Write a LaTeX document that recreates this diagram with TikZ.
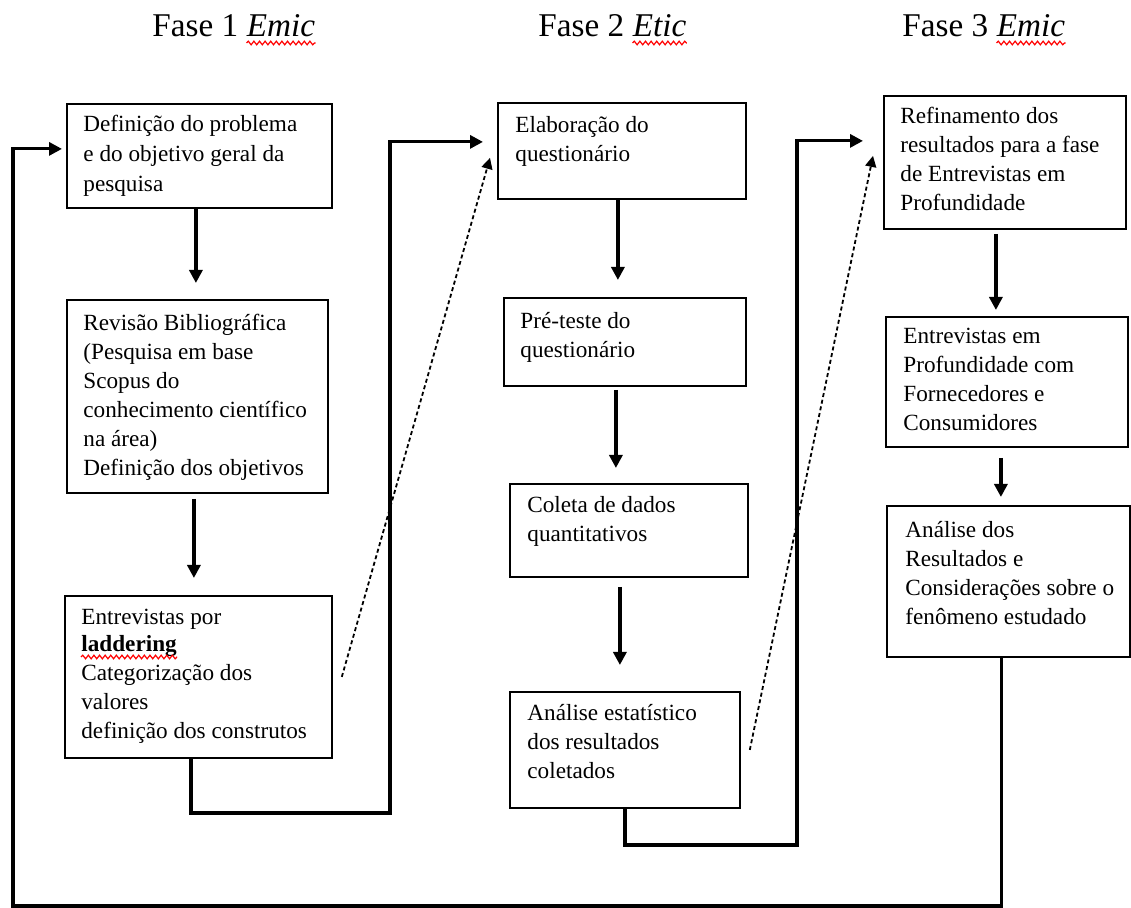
\documentclass[tikz,border=0pt]{standalone}
\usepackage{fontspec}
\setmainfont{Liberation Serif}
\usetikzlibrary{arrows.meta,calc,decorations.pathmorphing}
\newcommand\firststrut{\rule{0pt}{11pt}}
\begin{document}
\begin{tikzpicture}[x=0.5pt,y=-0.5pt,
  box/.style={draw=black,line width=0.9pt,anchor=north west,inner sep=0pt},
  txt/.style={anchor=north west,inner sep=0pt,align=left,
    font=\fontsize{11.6}{14.5}\selectfont},
  line/.style={anchor=base west,inner sep=0pt,
    font=\fontsize{11.6}{14.5}\selectfont},
  head/.style={anchor=base west,inner sep=0pt,
    font=\fontsize{16.6}{20}\selectfont},
  conn/.style={line width=1.6pt,line join=miter,
    -{Triangle[length=6.5pt,width=6.5pt]}},
  dots/.style={line width=0.9pt,dash pattern=on 2pt off 1.4pt,
    -{Triangle[length=5.5pt,width=5.5pt]}},
  wavy/.style={red,line width=0.6pt,
    decorate,decoration={snake,segment length=2.8pt,amplitude=0.9pt}}]
\useasboundingbox (0,0) rectangle (1131,908);

% phase headings
\node[head] (h1) at (152,37) {Fase 1};
\node[head,font=\fontsize{16.6}{20}\selectfont\itshape] (h1e) at ($(h1.base east)+(8,0)$) {Emic};
\node[head] (h2) at (538,37) {Fase 2};
\node[head,font=\fontsize{16.6}{20}\selectfont\itshape] (h2e) at ($(h2.base east)+(8,0)$) {Etic};
\node[head] (h3) at (902,37) {Fase 3};
\node[head,font=\fontsize{16.6}{20}\selectfont\itshape] (h3e) at ($(h3.base east)+(8,0)$) {Emic};
\draw[wavy] ($(h1e.base west)+(0,6)$) -- ($(h1e.base east)+(0,6)$);
\draw[wavy] ($(h2e.base west)+(0,6)$) -- ($(h2e.base east)+(0,6)$);
\draw[wavy] ($(h3e.base west)+(0,6)$) -- ($(h3e.base east)+(0,6)$);

% phase 1 boxes
\node[box,minimum width=132.5pt,minimum height=52pt] (a1) at (66,103) {};
\node[txt,font=\fontsize{11.6}{15}\selectfont] (a1t) at (83,109) {\firststrut Definição do problema\\e do objetivo geral da\\pesquisa};
\node[box,minimum width=130.5pt,minimum height=96.5pt] (a2) at (66,299) {};
\node[txt] (a2t) at (83,308) {\firststrut Revisão Bibliográfica\\(Pesquisa em base\\Scopus do\\conhecimento científico\\na área)\\Definição dos objetivos};
\node[box,minimum width=133.5pt,minimum height=81pt] (a3) at (64,595) {};
\node[line] (a3t1) at (81,625) {Entrevistas por};
\node[line,font=\fontsize{11.6}{14.5}\selectfont\bfseries] (a3t2) at (81,652) {laddering};
\node[txt] (a3t3) at (81,658) {\firststrut Categorização dos\\valores\\definição dos construtos};
\draw[wavy] ($(a3t2.base west)+(0,5)$) -- ($(a3t2.base east)+(0,5)$);

% phase 2 boxes
\node[box,minimum width=124pt,minimum height=48pt] (b1) at (497,102) {};
\node[txt] (b1t) at (515,110) {\firststrut Elaboração do\\questionário};
\node[box,minimum width=121pt,minimum height=44pt] (b2) at (503,297) {};
\node[txt] (b2t) at (520,306) {\firststrut Pré-teste do\\questionário};
\node[box,minimum width=119pt,minimum height=46.5pt] (b3) at (509,483) {};
\node[txt] (b3t) at (527,490) {\firststrut Coleta de dados\\quantitativos};
\node[box,minimum width=115pt,minimum height=58pt] (b4) at (509,691) {};
\node[txt] (b4t) at (527,698) {\firststrut Análise estatístico\\dos resultados\\coletados};

% phase 3 boxes
\node[box,minimum width=121pt,minimum height=66.5pt] (c1) at (883,95) {};
\node[txt] (c1t) at (900,101) {\firststrut Refinamento dos\\resultados para a fase\\de Entrevistas em\\Profundidade};
\node[box,minimum width=121pt,minimum height=65pt] (c2) at (885,316) {};
\node[txt] (c2t) at (903,321) {\firststrut Entrevistas em\\Profundidade com\\Fornecedores e\\Consumidores};
\node[box,minimum width=121.5pt,minimum height=75.5pt] (c3) at (886,505) {};
\node[txt] (c3t) at (905,515) {\firststrut Análise dos\\Resultados e\\Considerações sobre o\\fenômeno estudado};

% arrows inside each phase
\draw[conn,shorten >=8pt] ([xshift=-1.75pt]a1.south) -- ([xshift=-1.75pt]a1.south |- a2.north);
\draw[conn,shorten <=2.5pt,shorten >=8.5pt] ([xshift=-1.75pt]a2.south) -- ([xshift=-1.75pt]a2.south |- a3.north);
\draw[conn,shorten >=8.5pt] ([xshift=-2pt]b1.south) -- ([xshift=-2pt]b1.south |- b2.north);
\draw[conn,shorten <=1.5pt,shorten >=7.5pt] ([xshift=-4.5pt]b2.south) -- ([xshift=-4.5pt]b2.south |- b3.north);
\draw[conn,shorten <=4.5pt,shorten >=13pt] ([xshift=-4.5pt]b3.south) -- ([xshift=-4.5pt]b3.south |- b4.north);
\draw[conn,shorten <=2pt,shorten >=3pt] ([xshift=-4.5pt]c1.south) -- ([xshift=-4.5pt]c1.south |- c2.north);
\draw[conn,shorten <=5pt,shorten >=4pt] ([xshift=-3pt]c2.south) -- ([xshift=-3pt]c2.south |- c3.north);

% links between phases
\coordinate (j1) at (390,813);
\coordinate (j2) at (797,845);
\coordinate (bot) at (13,906);
\draw[conn,shorten >=7pt] ([xshift=-3.75pt]a3.south) |- (j1) |- ([yshift=4.5pt]b1.west);
\draw[conn,shorten >=10pt] (b4.south) |- (j2) |- ([yshift=10.75pt]c1.west);
\draw[conn,shorten >=2pt] ([xshift=-3.5pt]c3.south) |- (bot) |- ([yshift=3.5pt]a1.west);

% dotted feed-forward arrows
\draw[dots] ([xshift=4.5pt]a3.east) -- ([xshift=-3.5pt,yshift=-3.5pt]b1.west);
\draw[dots] ([xshift=4.5pt]b4.east) -- ([xshift=-5pt,yshift=3.25pt]c1.west);
\end{tikzpicture}
\end{document}
